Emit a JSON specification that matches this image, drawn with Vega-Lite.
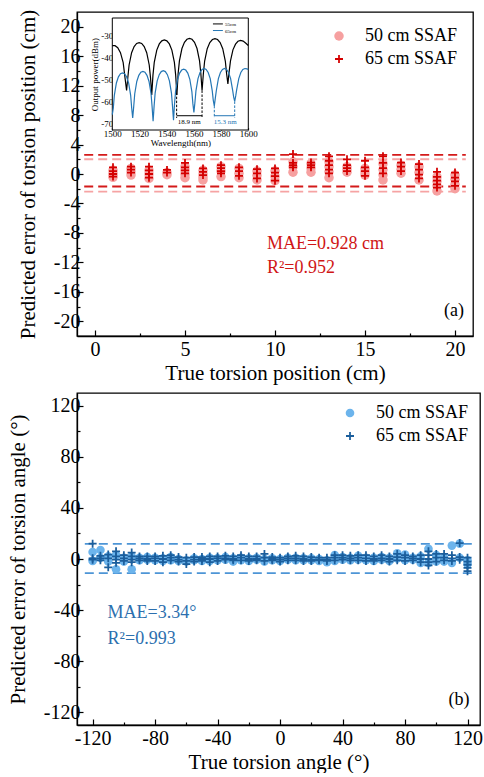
{
  "$schema": "https://vega.github.io/schema/vega-lite/v6.json",
  "padding": {"left": 6, "top": 8, "right": 0, "bottom": 0},
  "background": "white",
  "config": {
    "font": "Liberation Serif",
    "view": {"stroke": "black", "strokeWidth": 1.3},
    "axis": {
      "labelFont": "Liberation Serif", "labelFontSize": 20, "labelColor": "black",
      "titleFont": "Liberation Serif", "titleFontSize": 21, "titleFontWeight": "normal", "titleColor": "black",
      "domainColor": "black", "domainWidth": 1.3, "tickColor": "black", "tickWidth": 1.2,
      "grid": false, "labelFlush": false, "labelOverlap": false
    },
    "legend": {
      "labelFont": "Liberation Serif", "labelFontSize": 18, "labelColor": "black",
      "padding": 0, "rowPadding": 5, "labelOffset": 17, "symbolStrokeWidth": 0, "title": null
    },
    "text": {"font": "Liberation Serif"}
  },
  "spacing": 8,
  "resolve": {"scale": {"color": "independent", "shape": "independent", "size": "independent"}, "legend": {"color": "independent", "shape": "independent", "size": "independent"}},
  "vconcat": [
    {
      "width": 396,
      "height": 324,
      "resolve": {"scale": {"x": "independent", "y": "independent"}, "axis": {"x": "independent", "y": "independent"}},
      "layer": [
        {
          "layer": [
            {
              "data": {"values": [
                {"x0": -0.6, "x1": 20.6, "y": 2.6, "s": "65"},
                {"x0": -0.6, "x1": 20.6, "y": -1.7, "s": "65"},
                {"x0": -0.6, "x1": 20.6, "y": 2.0, "s": "50"},
                {"x0": -0.6, "x1": 20.6, "y": -2.4, "s": "50"}
              ]},
              "transform": [{"filter": "datum.s === '50'"}],
              "mark": {"type": "rule", "color": "#F6A3A3", "strokeWidth": 1.8, "strokeDash": [9, 5]},
              "encoding": {
                "x": {"field": "x0", "type": "quantitative", "scale": {"domain": [-1, 21], "nice": false, "zero": false}},
                "x2": {"field": "x1"},
                "y": {"field": "y", "type": "quantitative", "scale": {"domain": [-22, 22], "nice": false, "zero": false}}
              }
            },
            {
              "data": {"values": [
                {"x0": -0.6, "x1": 20.6, "y": 2.6, "s": "65"},
                {"x0": -0.6, "x1": 20.6, "y": -1.7, "s": "65"},
                {"x0": -0.6, "x1": 20.6, "y": 2.0, "s": "50"},
                {"x0": -0.6, "x1": 20.6, "y": -2.4, "s": "50"}
              ]},
              "transform": [{"filter": "datum.s === '65'"}],
              "mark": {"type": "rule", "color": "#D41A1A", "strokeWidth": 1.8, "strokeDash": [9, 5]},
              "encoding": {
                "x": {"field": "x0", "type": "quantitative"},
                "x2": {"field": "x1"},
                "y": {"field": "y", "type": "quantitative"}
              }
            },
            {
              "data": {"values": [
                {"x": 1, "y": 0.5, "series": "50 cm SSAF"}, {"x": 1, "y": 0.1, "series": "50 cm SSAF"}, {"x": 1, "y": -0.2, "series": "50 cm SSAF"}, {"x": 1, "y": -0.45, "series": "50 cm SSAF"},
                {"x": 2, "y": 0.75, "series": "50 cm SSAF"}, {"x": 2, "y": 0.3, "series": "50 cm SSAF"}, {"x": 2, "y": -0.15, "series": "50 cm SSAF"},
                {"x": 3, "y": 0.5, "series": "50 cm SSAF"}, {"x": 3, "y": 0, "series": "50 cm SSAF"}, {"x": 3, "y": -0.6, "series": "50 cm SSAF"},
                {"x": 4, "y": 0.2, "series": "50 cm SSAF"}, {"x": 4, "y": -0.1, "series": "50 cm SSAF"},
                {"x": 5, "y": 1.0, "series": "50 cm SSAF"}, {"x": 5, "y": 0.5, "series": "50 cm SSAF"}, {"x": 5, "y": 0, "series": "50 cm SSAF"}, {"x": 5, "y": -0.5, "series": "50 cm SSAF"},
                {"x": 6, "y": 0.5, "series": "50 cm SSAF"}, {"x": 6, "y": 0, "series": "50 cm SSAF"}, {"x": 6, "y": -0.4, "series": "50 cm SSAF"}, {"x": 6, "y": -0.8, "series": "50 cm SSAF"},
                {"x": 7, "y": 1.0, "series": "50 cm SSAF"}, {"x": 7, "y": 0.4, "series": "50 cm SSAF"}, {"x": 7, "y": -0.35, "series": "50 cm SSAF"},
                {"x": 8, "y": 0.75, "series": "50 cm SSAF"}, {"x": 8, "y": 0.1, "series": "50 cm SSAF"}, {"x": 8, "y": -0.5, "series": "50 cm SSAF"},
                {"x": 9, "y": 0.4, "series": "50 cm SSAF"}, {"x": 9, "y": -0.2, "series": "50 cm SSAF"}, {"x": 9, "y": -0.8, "series": "50 cm SSAF"},
                {"x": 10, "y": 0.4, "series": "50 cm SSAF"}, {"x": 10, "y": -0.3, "series": "50 cm SSAF"}, {"x": 10, "y": -0.9, "series": "50 cm SSAF"},
                {"x": 11, "y": 1.65, "series": "50 cm SSAF"}, {"x": 11, "y": 1.0, "series": "50 cm SSAF"}, {"x": 11, "y": 0.25, "series": "50 cm SSAF"},
                {"x": 12, "y": 1.4, "series": "50 cm SSAF"}, {"x": 12, "y": 0.8, "series": "50 cm SSAF"}, {"x": 12, "y": 0.25, "series": "50 cm SSAF"},
                {"x": 13, "y": 1.65, "series": "50 cm SSAF"}, {"x": 13, "y": 1.0, "series": "50 cm SSAF"}, {"x": 13, "y": 0.3, "series": "50 cm SSAF"}, {"x": 13, "y": -0.5, "series": "50 cm SSAF"},
                {"x": 14, "y": 1.0, "series": "50 cm SSAF"}, {"x": 14, "y": 0.6, "series": "50 cm SSAF"}, {"x": 14, "y": 0.25, "series": "50 cm SSAF"},
                {"x": 15, "y": 0.75, "series": "50 cm SSAF"}, {"x": 15, "y": 0.3, "series": "50 cm SSAF"}, {"x": 15, "y": -0.15, "series": "50 cm SSAF"},
                {"x": 16, "y": 1.4, "series": "50 cm SSAF"}, {"x": 16, "y": 0.6, "series": "50 cm SSAF"}, {"x": 16, "y": -0.1, "series": "50 cm SSAF"}, {"x": 16, "y": -0.8, "series": "50 cm SSAF"},
                {"x": 17, "y": 1.2, "series": "50 cm SSAF"}, {"x": 17, "y": 0.6, "series": "50 cm SSAF"}, {"x": 17, "y": 0.1, "series": "50 cm SSAF"},
                {"x": 18, "y": 1.0, "series": "50 cm SSAF"}, {"x": 18, "y": 0.2, "series": "50 cm SSAF"}, {"x": 18, "y": -0.8, "series": "50 cm SSAF"},
                {"x": 19, "y": -0.4, "series": "50 cm SSAF"}, {"x": 19, "y": -1.0, "series": "50 cm SSAF"}, {"x": 19, "y": -1.6, "series": "50 cm SSAF"}, {"x": 19, "y": -2.3, "series": "50 cm SSAF"},
                {"x": 20, "y": -0.15, "series": "50 cm SSAF"}, {"x": 20, "y": -0.7, "series": "50 cm SSAF"}, {"x": 20, "y": -1.4, "series": "50 cm SSAF"}, {"x": 20, "y": -2.0, "series": "50 cm SSAF"},
                {"x": 1, "y": 0.9, "series": "65 cm SSAF"}, {"x": 1, "y": 0.4, "series": "65 cm SSAF"}, {"x": 1, "y": 0, "series": "65 cm SSAF"}, {"x": 1, "y": -0.35, "series": "65 cm SSAF"},
                {"x": 2, "y": 1.0, "series": "65 cm SSAF"}, {"x": 2, "y": 0.6, "series": "65 cm SSAF"}, {"x": 2, "y": 0.2, "series": "65 cm SSAF"},
                {"x": 3, "y": 1.0, "series": "65 cm SSAF"}, {"x": 3, "y": 0.5, "series": "65 cm SSAF"}, {"x": 3, "y": 0, "series": "65 cm SSAF"}, {"x": 3, "y": -0.5, "series": "65 cm SSAF"},
                {"x": 4, "y": 0.55, "series": "65 cm SSAF"}, {"x": 4, "y": 0.2, "series": "65 cm SSAF"},
                {"x": 5, "y": 1.5, "series": "65 cm SSAF"}, {"x": 5, "y": 0.9, "series": "65 cm SSAF"}, {"x": 5, "y": 0.5, "series": "65 cm SSAF"}, {"x": 5, "y": 0.1, "series": "65 cm SSAF"},
                {"x": 6, "y": 0.75, "series": "65 cm SSAF"}, {"x": 6, "y": 0.3, "series": "65 cm SSAF"}, {"x": 6, "y": -0.15, "series": "65 cm SSAF"},
                {"x": 7, "y": 1.2, "series": "65 cm SSAF"}, {"x": 7, "y": 0.8, "series": "65 cm SSAF"}, {"x": 7, "y": 0.4, "series": "65 cm SSAF"}, {"x": 7, "y": 0.1, "series": "65 cm SSAF"},
                {"x": 8, "y": 0.9, "series": "65 cm SSAF"}, {"x": 8, "y": 0.4, "series": "65 cm SSAF"}, {"x": 8, "y": -0.25, "series": "65 cm SSAF"},
                {"x": 9, "y": 0.65, "series": "65 cm SSAF"}, {"x": 9, "y": 0.1, "series": "65 cm SSAF"}, {"x": 9, "y": -0.6, "series": "65 cm SSAF"},
                {"x": 10, "y": 0.75, "series": "65 cm SSAF"}, {"x": 10, "y": 0.2, "series": "65 cm SSAF"}, {"x": 10, "y": -0.3, "series": "65 cm SSAF"}, {"x": 10, "y": -0.9, "series": "65 cm SSAF"},
                {"x": 11, "y": 2.7, "series": "65 cm SSAF"}, {"x": 11, "y": 1.5, "series": "65 cm SSAF"}, {"x": 11, "y": 1.2, "series": "65 cm SSAF"}, {"x": 11, "y": 0.9, "series": "65 cm SSAF"},
                {"x": 12, "y": 1.55, "series": "65 cm SSAF"}, {"x": 12, "y": 1.2, "series": "65 cm SSAF"}, {"x": 12, "y": 0.9, "series": "65 cm SSAF"},
                {"x": 13, "y": 2.4, "series": "65 cm SSAF"}, {"x": 13, "y": 1.8, "series": "65 cm SSAF"}, {"x": 13, "y": 1.2, "series": "65 cm SSAF"}, {"x": 13, "y": 0.6, "series": "65 cm SSAF"}, {"x": 13, "y": 0.1, "series": "65 cm SSAF"},
                {"x": 14, "y": 2.0, "series": "65 cm SSAF"}, {"x": 14, "y": 1.2, "series": "65 cm SSAF"}, {"x": 14, "y": 0.8, "series": "65 cm SSAF"}, {"x": 14, "y": 0.4, "series": "65 cm SSAF"},
                {"x": 15, "y": 1.8, "series": "65 cm SSAF"}, {"x": 15, "y": 0.9, "series": "65 cm SSAF"}, {"x": 15, "y": 0.4, "series": "65 cm SSAF"}, {"x": 15, "y": -0.25, "series": "65 cm SSAF"},
                {"x": 16, "y": 2.4, "series": "65 cm SSAF"}, {"x": 16, "y": 1.5, "series": "65 cm SSAF"}, {"x": 16, "y": 0.8, "series": "65 cm SSAF"}, {"x": 16, "y": 0.1, "series": "65 cm SSAF"},
                {"x": 17, "y": 1.55, "series": "65 cm SSAF"}, {"x": 17, "y": 1.0, "series": "65 cm SSAF"}, {"x": 17, "y": 0.4, "series": "65 cm SSAF"},
                {"x": 18, "y": 1.35, "series": "65 cm SSAF"}, {"x": 18, "y": 0.6, "series": "65 cm SSAF"}, {"x": 18, "y": -0.1, "series": "65 cm SSAF"}, {"x": 18, "y": -0.6, "series": "65 cm SSAF"},
                {"x": 19, "y": 0.3, "series": "65 cm SSAF"}, {"x": 19, "y": -0.4, "series": "65 cm SSAF"}, {"x": 19, "y": -0.9, "series": "65 cm SSAF"}, {"x": 19, "y": -1.4, "series": "65 cm SSAF"}, {"x": 19, "y": -1.85, "series": "65 cm SSAF"},
                {"x": 20, "y": 0.2, "series": "65 cm SSAF"}, {"x": 20, "y": -0.5, "series": "65 cm SSAF"}, {"x": 20, "y": -1.0, "series": "65 cm SSAF"}, {"x": 20, "y": -1.6, "series": "65 cm SSAF"}
              ]},
              "mark": {"type": "point", "filled": true, "opacity": 1, "strokeWidth": 0},
              "encoding": {
                "x": {"field": "x", "type": "quantitative", "title": "True torsion position (cm)",
                  "axis": {"values": [0, 2.5, 5, 7.5, 10, 12.5, 15, 17.5, 20], "tickCount": 100,
                    "labelExpr": "datum.value % 5 === 0 ? '' + datum.value : ''",
                    "tickSize": {"condition": {"test": "datum.value % 5 === 0", "value": -6}, "value": -3},
                    "labelFont": "Liberation Serif", "labelFontSize": 20, "titleFont": "Liberation Serif", "titleFontSize": 21,
                    "labelOverlap": false, "labelFlush": false,
                    "labelPadding": 9, "titlePadding": 0}},
                "y": {"field": "y", "type": "quantitative", "title": "Predicted error of torsion position (cm)",
                  "axis": {"values": [-20, -18, -16, -14, -12, -10, -8, -6, -4, -2, 0, 2, 4, 6, 8, 10, 12, 14, 16, 18, 20], "tickCount": 100,
                    "labelExpr": "datum.value % 4 === 0 ? '' + datum.value : ''",
                    "tickSize": {"condition": {"test": "datum.value % 4 === 0", "value": -6}, "value": -3},
                    "labelFont": "Liberation Serif", "labelFontSize": 20, "titleFont": "Liberation Serif", "titleFontSize": 21,
                    "labelOverlap": false, "labelFlush": false,
                    "labelPadding": 3, "titlePadding": 15}},
                "color": {"field": "series", "type": "nominal", "scale": {"domain": ["50 cm SSAF", "65 cm SSAF"], "range": ["#F6A0A0", "#D40000"]},
                  "legend": {"orient": "top-right", "offset": 15}},
                "shape": {"field": "series", "type": "nominal", "scale": {"domain": ["50 cm SSAF", "65 cm SSAF"], "range": ["circle", "M-1,-0.22H-0.22V-1H0.22V-0.22H1V0.22H0.22V1H-0.22V0.22H-1Z"]}},
                "size": {"field": "series", "type": "nominal", "scale": {"domain": ["50 cm SSAF", "65 cm SSAF"], "range": [90, 64]}}
              }
            },
            {
              "data": {"values": [
                {"x": 9.55, "y": -10.25, "t": "MAE=0.928 cm"},
                {"x": 9.55, "y": -13.4, "t": "R²=0.952"}
              ]},
              "mark": {"type": "text", "align": "left", "baseline": "alphabetic", "fontSize": 18, "color": "#D01515", "font": "Liberation Serif"},
              "encoding": {
                "x": {"field": "x", "type": "quantitative"},
                "y": {"field": "y", "type": "quantitative"},
                "text": {"field": "t"}
              }
            },
            {
              "data": {"values": [{"x": 20.5, "y": -19.3, "t": "(a)"}]},
              "mark": {"type": "text", "align": "right", "baseline": "alphabetic", "fontSize": 18, "color": "black", "font": "Liberation Serif"},
              "encoding": {
                "x": {"field": "x", "type": "quantitative"},
                "y": {"field": "y", "type": "quantitative"},
                "text": {"field": "t"}
              }
            }
          ]
        },
        {
          "layer": [
            {
              "data": {"values": [{"l0": 1500, "l1": 1600, "p0": -73, "p1": -22}]},
              "mark": {"type": "rect", "fill": "white", "stroke": "black", "strokeWidth": 1},
              "encoding": {
                "x": {"field": "l0", "type": "quantitative",
                  "scale": {"domain": [1500, 1600], "range": [35.3, 171.3], "nice": false, "zero": false},
                  "axis": {"orient": "bottom", "offset": -206, "values": [1500, 1520, 1540, 1560, 1580, 1600], "tickCount": 100,
                    "title": "Wavelength(nm)", "labelFont": "Liberation Serif", "titleFont": "Liberation Serif",
                    "labelFontSize": 9, "titleFontSize": 9, "tickSize": -2.5, "labelOverlap": false, "labelFlush": false,
                    "labelPadding": 2, "titlePadding": 0, "domain": false, "labelExpr": "'' + datum.value"}},
                "x2": {"field": "l1"},
                "y": {"field": "p0", "type": "quantitative",
                  "scale": {"domain": [-73, -22], "range": [118, 6], "nice": false, "zero": false},
                  "axis": {"orient": "left", "offset": -35.3, "values": [-70, -60, -50, -40, -30], "tickCount": 100,
                    "title": "Output power(dBm)", "labelFont": "Liberation Serif", "titleFont": "Liberation Serif",
                    "labelFontSize": 9, "titleFontSize": 9, "tickSize": -2.5, "labelOverlap": false, "labelFlush": false,
                    "labelPadding": 2, "titlePadding": 1, "domain": false, "labelExpr": "'' + datum.value"}},
                "y2": {"field": "p1"}
              }
            },
            {
              "data": {"name": "spec", "values": [
                {"lam": 1500, "p": -34.6, "s": "55cm"}, {"lam": 1502, "p": -34.6, "s": "55cm"}, {"lam": 1504, "p": -35.5, "s": "55cm"}, {"lam": 1506, "p": -37.8, "s": "55cm"}, {"lam": 1508, "p": -42.3, "s": "55cm"}, {"lam": 1509.5, "p": -50, "s": "55cm"}, {"lam": 1510.5, "p": -55, "s": "55cm"},
                {"lam": 1511.4, "p": -49.2, "s": "55cm"}, {"lam": 1512.35, "p": -43.4, "s": "55cm"}, {"lam": 1514.2, "p": -37.8, "s": "55cm"}, {"lam": 1516.05, "p": -35, "s": "55cm"}, {"lam": 1517.9, "p": -33.6, "s": "55cm"}, {"lam": 1519.75, "p": -33.2, "s": "55cm"}, {"lam": 1521.6, "p": -33.6, "s": "55cm"}, {"lam": 1523.45, "p": -35, "s": "55cm"}, {"lam": 1525.3, "p": -37.8, "s": "55cm"}, {"lam": 1527.15, "p": -43.4, "s": "55cm"}, {"lam": 1528.1, "p": -49.2, "s": "55cm"}, {"lam": 1529, "p": -57, "s": "55cm"},
                {"lam": 1529.9, "p": -48, "s": "55cm"}, {"lam": 1530.85, "p": -42.2, "s": "55cm"}, {"lam": 1532.7, "p": -36.6, "s": "55cm"}, {"lam": 1534.55, "p": -33.8, "s": "55cm"}, {"lam": 1536.4, "p": -32.4, "s": "55cm"}, {"lam": 1538.25, "p": -32, "s": "55cm"}, {"lam": 1540.1, "p": -32.4, "s": "55cm"}, {"lam": 1541.95, "p": -33.8, "s": "55cm"}, {"lam": 1543.8, "p": -36.6, "s": "55cm"}, {"lam": 1545.65, "p": -42.2, "s": "55cm"}, {"lam": 1546.6, "p": -48, "s": "55cm"}, {"lam": 1547.5, "p": -57, "s": "55cm"},
                {"lam": 1548.4, "p": -47.3, "s": "55cm"}, {"lam": 1549.35, "p": -41.5, "s": "55cm"}, {"lam": 1551.2, "p": -35.9, "s": "55cm"}, {"lam": 1553.05, "p": -33.1, "s": "55cm"}, {"lam": 1554.9, "p": -31.7, "s": "55cm"}, {"lam": 1556.75, "p": -31.3, "s": "55cm"}, {"lam": 1558.6, "p": -31.7, "s": "55cm"}, {"lam": 1560.45, "p": -33.1, "s": "55cm"}, {"lam": 1562.3, "p": -35.9, "s": "55cm"}, {"lam": 1564.15, "p": -41.5, "s": "55cm"}, {"lam": 1565.1, "p": -47.3, "s": "55cm"}, {"lam": 1566, "p": -55, "s": "55cm"},
                {"lam": 1566.95, "p": -47.4, "s": "55cm"}, {"lam": 1567.9, "p": -41.6, "s": "55cm"}, {"lam": 1569.8, "p": -36, "s": "55cm"}, {"lam": 1571.7, "p": -33.2, "s": "55cm"}, {"lam": 1573.6, "p": -31.8, "s": "55cm"}, {"lam": 1575.5, "p": -31.4, "s": "55cm"}, {"lam": 1577.4, "p": -31.8, "s": "55cm"}, {"lam": 1579.3, "p": -33.2, "s": "55cm"}, {"lam": 1581.2, "p": -36, "s": "55cm"}, {"lam": 1583.1, "p": -41.6, "s": "55cm"}, {"lam": 1584.05, "p": -47.4, "s": "55cm"}, {"lam": 1585, "p": -52, "s": "55cm"},
                {"lam": 1585.9, "p": -46.5, "s": "55cm"}, {"lam": 1586.9, "p": -41.5, "s": "55cm"}, {"lam": 1588.7, "p": -36.5, "s": "55cm"}, {"lam": 1590.6, "p": -33.9, "s": "55cm"}, {"lam": 1592.4, "p": -32.6, "s": "55cm"}, {"lam": 1594.3, "p": -32.2, "s": "55cm"}, {"lam": 1596.2, "p": -32.5, "s": "55cm"}, {"lam": 1598, "p": -33.4, "s": "55cm"}, {"lam": 1600, "p": -34.5, "s": "55cm"},
                {"lam": 1500, "p": -66, "s": "65cm"}, {"lam": 1500.75, "p": -63, "s": "65cm"}, {"lam": 1501.5, "p": -57.2, "s": "65cm"}, {"lam": 1503, "p": -51.6, "s": "65cm"}, {"lam": 1504.5, "p": -48.8, "s": "65cm"}, {"lam": 1506, "p": -47.4, "s": "65cm"}, {"lam": 1507.5, "p": -47, "s": "65cm"}, {"lam": 1509, "p": -47.4, "s": "65cm"}, {"lam": 1510.5, "p": -48.8, "s": "65cm"}, {"lam": 1512, "p": -51.6, "s": "65cm"}, {"lam": 1513.5, "p": -57.2, "s": "65cm"}, {"lam": 1514.25, "p": -63, "s": "65cm"}, {"lam": 1515, "p": -67.5, "s": "65cm"},
                {"lam": 1515.75, "p": -62.3, "s": "65cm"}, {"lam": 1516.5, "p": -56.5, "s": "65cm"}, {"lam": 1518, "p": -50.9, "s": "65cm"}, {"lam": 1519.5, "p": -48.1, "s": "65cm"}, {"lam": 1521, "p": -46.7, "s": "65cm"}, {"lam": 1522.5, "p": -46.3, "s": "65cm"}, {"lam": 1524, "p": -46.7, "s": "65cm"}, {"lam": 1525.5, "p": -48.1, "s": "65cm"}, {"lam": 1527, "p": -50.9, "s": "65cm"}, {"lam": 1528.5, "p": -56.5, "s": "65cm"}, {"lam": 1529.25, "p": -62.3, "s": "65cm"}, {"lam": 1530, "p": -69, "s": "65cm"},
                {"lam": 1530.75, "p": -62, "s": "65cm"}, {"lam": 1531.5, "p": -56.2, "s": "65cm"}, {"lam": 1533, "p": -50.6, "s": "65cm"}, {"lam": 1534.5, "p": -47.8, "s": "65cm"}, {"lam": 1536, "p": -46.4, "s": "65cm"}, {"lam": 1537.5, "p": -46, "s": "65cm"}, {"lam": 1539, "p": -46.4, "s": "65cm"}, {"lam": 1540.5, "p": -47.8, "s": "65cm"}, {"lam": 1542, "p": -50.6, "s": "65cm"}, {"lam": 1543.5, "p": -56.2, "s": "65cm"}, {"lam": 1544.25, "p": -62, "s": "65cm"}, {"lam": 1545, "p": -68.5, "s": "65cm"},
                {"lam": 1545.75, "p": -61.3, "s": "65cm"}, {"lam": 1546.5, "p": -55.5, "s": "65cm"}, {"lam": 1548, "p": -49.9, "s": "65cm"}, {"lam": 1549.5, "p": -47.1, "s": "65cm"}, {"lam": 1551, "p": -45.7, "s": "65cm"}, {"lam": 1552.5, "p": -45.3, "s": "65cm"}, {"lam": 1554, "p": -45.7, "s": "65cm"}, {"lam": 1555.5, "p": -47.1, "s": "65cm"}, {"lam": 1557, "p": -49.9, "s": "65cm"}, {"lam": 1558.5, "p": -55.5, "s": "65cm"}, {"lam": 1559.25, "p": -61, "s": "65cm"}, {"lam": 1560, "p": -65, "s": "65cm"},
                {"lam": 1560.75, "p": -60.5, "s": "65cm"}, {"lam": 1561.5, "p": -55.2, "s": "65cm"}, {"lam": 1563, "p": -49.6, "s": "65cm"}, {"lam": 1564.5, "p": -46.8, "s": "65cm"}, {"lam": 1566, "p": -45.4, "s": "65cm"}, {"lam": 1567.5, "p": -45, "s": "65cm"}, {"lam": 1569, "p": -45.4, "s": "65cm"}, {"lam": 1570.5, "p": -46.8, "s": "65cm"}, {"lam": 1572, "p": -49.6, "s": "65cm"}, {"lam": 1573.5, "p": -55.2, "s": "65cm"}, {"lam": 1574.25, "p": -59.5, "s": "65cm"}, {"lam": 1575, "p": -62, "s": "65cm"},
                {"lam": 1575.75, "p": -58.5, "s": "65cm"}, {"lam": 1576.5, "p": -55, "s": "65cm"}, {"lam": 1578, "p": -49.6, "s": "65cm"}, {"lam": 1579.5, "p": -46.8, "s": "65cm"}, {"lam": 1581, "p": -45.4, "s": "65cm"}, {"lam": 1582.5, "p": -45, "s": "65cm"}, {"lam": 1584, "p": -45.4, "s": "65cm"}, {"lam": 1585.5, "p": -46.8, "s": "65cm"}, {"lam": 1587, "p": -49.6, "s": "65cm"}, {"lam": 1588.5, "p": -55, "s": "65cm"}, {"lam": 1589.25, "p": -58, "s": "65cm"}, {"lam": 1590, "p": -60, "s": "65cm"},
                {"lam": 1590.75, "p": -57.5, "s": "65cm"}, {"lam": 1591.5, "p": -54.5, "s": "65cm"}, {"lam": 1593, "p": -49.6, "s": "65cm"}, {"lam": 1594.5, "p": -46.8, "s": "65cm"}, {"lam": 1596, "p": -45.4, "s": "65cm"}, {"lam": 1597.5, "p": -45, "s": "65cm"}, {"lam": 1599, "p": -45.2, "s": "65cm"}, {"lam": 1600, "p": -45.4, "s": "65cm"}
              ]},
              "transform": [{"filter": "datum.s === '55cm'"}],
              "mark": {"type": "line", "color": "black", "strokeWidth": 1.2},
              "encoding": {
                "x": {"field": "lam", "type": "quantitative"},
                "y": {"field": "p", "type": "quantitative"}
              }
            },
            {
              "data": {"name": "spec"},
              "transform": [{"filter": "datum.s === '65cm'"}],
              "mark": {"type": "line", "color": "#2577B5", "strokeWidth": 1.2},
              "encoding": {
                "x": {"field": "lam", "type": "quantitative"},
                "y": {"field": "p", "type": "quantitative"}
              }
            },
            {
              "data": {"values": [
                {"l0": 1547.3, "l1": 1547.3, "p0": -56, "p1": -67.5},
                {"l0": 1566, "l1": 1566, "p0": -55, "p1": -67.5}
              ]},
              "mark": {"type": "rule", "color": "black", "strokeWidth": 1, "strokeDash": [2.5, 1.5]},
              "encoding": {
                "x": {"field": "l0", "type": "quantitative"}, "x2": {"field": "l1"},
                "y": {"field": "p0", "type": "quantitative"}, "y2": {"field": "p1"}
              }
            },
            {
              "data": {"values": [
                {"l0": 1575, "l1": 1575, "p0": -62, "p1": -67.5},
                {"l0": 1590, "l1": 1590, "p0": -60, "p1": -67.5}
              ]},
              "mark": {"type": "rule", "color": "#2577B5", "strokeWidth": 1, "strokeDash": [2.5, 1.5]},
              "encoding": {
                "x": {"field": "l0", "type": "quantitative"}, "x2": {"field": "l1"},
                "y": {"field": "p0", "type": "quantitative"}, "y2": {"field": "p1"}
              }
            },
            {
              "data": {"values": [{"l0": 1547.3, "l1": 1566, "p": -66.5}]},
              "mark": {"type": "rule", "color": "black", "strokeWidth": 1},
              "encoding": {
                "x": {"field": "l0", "type": "quantitative"}, "x2": {"field": "l1"},
                "y": {"field": "p", "type": "quantitative"}
              }
            },
            {
              "data": {"values": [{"l0": 1575, "l1": 1590, "p": -66.5}]},
              "mark": {"type": "rule", "color": "#2577B5", "strokeWidth": 1},
              "encoding": {
                "x": {"field": "l0", "type": "quantitative"}, "x2": {"field": "l1"},
                "y": {"field": "p", "type": "quantitative"}
              }
            },
            {
              "data": {"values": [{"l": 1556.6, "p": -70.4, "t": "18.9 nm"}]},
              "mark": {"type": "text", "fontSize": 7, "color": "black", "baseline": "alphabetic", "font": "Liberation Serif"},
              "encoding": {
                "x": {"field": "l", "type": "quantitative"},
                "y": {"field": "p", "type": "quantitative"},
                "text": {"field": "t"}
              }
            },
            {
              "data": {"values": [{"l": 1583, "p": -70.4, "t": "15.3 nm"}]},
              "mark": {"type": "text", "fontSize": 7, "color": "#2577B5", "baseline": "alphabetic", "font": "Liberation Serif"},
              "encoding": {
                "x": {"field": "l", "type": "quantitative"},
                "y": {"field": "p", "type": "quantitative"},
                "text": {"field": "t"}
              }
            },
            {
              "data": {"values": [{"l0": 1574, "l1": 1581.3, "p": -24.7}]},
              "mark": {"type": "rule", "color": "black", "strokeWidth": 1},
              "encoding": {
                "x": {"field": "l0", "type": "quantitative"}, "x2": {"field": "l1"},
                "y": {"field": "p", "type": "quantitative"}
              }
            },
            {
              "data": {"values": [{"l0": 1574, "l1": 1581.3, "p": -27.7}]},
              "mark": {"type": "rule", "color": "#2577B5", "strokeWidth": 1},
              "encoding": {
                "x": {"field": "l0", "type": "quantitative"}, "x2": {"field": "l1"},
                "y": {"field": "p", "type": "quantitative"}
              }
            },
            {
              "data": {"values": [{"l": 1582.8, "p": -24.7, "t": "55cm"}, {"l": 1582.8, "p": -27.7, "t": "65cm"}]},
              "mark": {"type": "text", "fontSize": 5, "color": "black", "align": "left", "baseline": "middle", "font": "Liberation Serif"},
              "encoding": {
                "x": {"field": "l", "type": "quantitative"},
                "y": {"field": "p", "type": "quantitative"},
                "text": {"field": "t"}
              }
            }
          ]
        }
      ]
    },
    {
      "width": 403,
      "height": 332,
      "layer": [
        {
          "data": {"values": [
            {"x0": -125, "x1": 125, "y": 11.8},
            {"x0": -125, "x1": 125, "y": -11.1}
          ]},
          "mark": {"type": "rule", "color": "#4D95D6", "strokeWidth": 1.8, "strokeDash": [9, 5]},
          "encoding": {
            "x": {"field": "x0", "type": "quantitative", "scale": {"domain": [-130, 128], "nice": false, "zero": false}},
            "x2": {"field": "x1"},
            "y": {"field": "y", "type": "quantitative", "scale": {"domain": [-130, 130], "nice": false, "zero": false}}
          }
        },
        {
          "data": {"values": [
            {"x": -120, "y": 5.5, "series": "50 cm SSAF"}, {"x": -120, "y": -1.5, "series": "50 cm SSAF"},
            {"x": -115, "y": 7, "series": "50 cm SSAF"}, {"x": -115, "y": 1, "series": "50 cm SSAF"},
            {"x": -110, "y": 2, "series": "50 cm SSAF"}, {"x": -110, "y": -2, "series": "50 cm SSAF"},
            {"x": -105, "y": -8, "series": "50 cm SSAF"}, {"x": -105, "y": 3, "series": "50 cm SSAF"},
            {"x": -100, "y": 1, "series": "50 cm SSAF"}, {"x": -100, "y": -2, "series": "50 cm SSAF"},
            {"x": -95, "y": -8, "series": "50 cm SSAF"}, {"x": -95, "y": 2, "series": "50 cm SSAF"},
            {"x": -90, "y": 1, "series": "50 cm SSAF"}, {"x": -90, "y": -1, "series": "50 cm SSAF"},
            {"x": -85, "y": 1.5, "series": "50 cm SSAF"}, {"x": -85, "y": -0.5, "series": "50 cm SSAF"},
            {"x": -80, "y": 1, "series": "50 cm SSAF"}, {"x": -80, "y": -1, "series": "50 cm SSAF"},
            {"x": -75, "y": 0.5, "series": "50 cm SSAF"}, {"x": -75, "y": -1.5, "series": "50 cm SSAF"},
            {"x": -70, "y": 1.5, "series": "50 cm SSAF"}, {"x": -70, "y": -1, "series": "50 cm SSAF"},
            {"x": -65, "y": 0, "series": "50 cm SSAF"}, {"x": -65, "y": -1.5, "series": "50 cm SSAF"},
            {"x": -60, "y": -1, "series": "50 cm SSAF"}, {"x": -60, "y": -2, "series": "50 cm SSAF"},
            {"x": -55, "y": 0.5, "series": "50 cm SSAF"}, {"x": -55, "y": -1, "series": "50 cm SSAF"},
            {"x": -50, "y": 0, "series": "50 cm SSAF"}, {"x": -50, "y": -1.5, "series": "50 cm SSAF"},
            {"x": -45, "y": 1, "series": "50 cm SSAF"}, {"x": -45, "y": -1.5, "series": "50 cm SSAF"},
            {"x": -40, "y": 0.5, "series": "50 cm SSAF"}, {"x": -40, "y": -1, "series": "50 cm SSAF"},
            {"x": -35, "y": 1.5, "series": "50 cm SSAF"}, {"x": -35, "y": -0.5, "series": "50 cm SSAF"},
            {"x": -30, "y": 0.5, "series": "50 cm SSAF"}, {"x": -30, "y": -2, "series": "50 cm SSAF"},
            {"x": -25, "y": 1, "series": "50 cm SSAF"}, {"x": -25, "y": -1, "series": "50 cm SSAF"},
            {"x": -20, "y": 0.5, "series": "50 cm SSAF"}, {"x": -20, "y": -1.5, "series": "50 cm SSAF"},
            {"x": -15, "y": 1, "series": "50 cm SSAF"}, {"x": -15, "y": -0.5, "series": "50 cm SSAF"},
            {"x": -10, "y": 0, "series": "50 cm SSAF"}, {"x": -10, "y": -2, "series": "50 cm SSAF"},
            {"x": -5, "y": 0.5, "series": "50 cm SSAF"}, {"x": -5, "y": -1, "series": "50 cm SSAF"},
            {"x": 0, "y": 0, "series": "50 cm SSAF"}, {"x": 0, "y": -1.5, "series": "50 cm SSAF"},
            {"x": 5, "y": 1, "series": "50 cm SSAF"}, {"x": 5, "y": -0.5, "series": "50 cm SSAF"},
            {"x": 10, "y": 1, "series": "50 cm SSAF"}, {"x": 10, "y": -1, "series": "50 cm SSAF"},
            {"x": 15, "y": 0.5, "series": "50 cm SSAF"}, {"x": 15, "y": -1, "series": "50 cm SSAF"},
            {"x": 20, "y": 0.5, "series": "50 cm SSAF"}, {"x": 20, "y": -1, "series": "50 cm SSAF"},
            {"x": 25, "y": 0, "series": "50 cm SSAF"}, {"x": 25, "y": -1.5, "series": "50 cm SSAF"},
            {"x": 30, "y": -1, "series": "50 cm SSAF"}, {"x": 30, "y": -2.5, "series": "50 cm SSAF"},
            {"x": 35, "y": 3, "series": "50 cm SSAF"}, {"x": 35, "y": -1.5, "series": "50 cm SSAF"},
            {"x": 40, "y": 1.5, "series": "50 cm SSAF"}, {"x": 40, "y": -0.5, "series": "50 cm SSAF"},
            {"x": 45, "y": 1, "series": "50 cm SSAF"}, {"x": 45, "y": -1, "series": "50 cm SSAF"},
            {"x": 50, "y": 2.5, "series": "50 cm SSAF"}, {"x": 50, "y": -0.5, "series": "50 cm SSAF"},
            {"x": 55, "y": 1, "series": "50 cm SSAF"}, {"x": 55, "y": -1, "series": "50 cm SSAF"},
            {"x": 60, "y": 1, "series": "50 cm SSAF"}, {"x": 60, "y": -1.5, "series": "50 cm SSAF"},
            {"x": 65, "y": 1.5, "series": "50 cm SSAF"}, {"x": 65, "y": -0.5, "series": "50 cm SSAF"},
            {"x": 70, "y": 1, "series": "50 cm SSAF"}, {"x": 70, "y": -1.5, "series": "50 cm SSAF"},
            {"x": 75, "y": 4.5, "series": "50 cm SSAF"}, {"x": 75, "y": 0.5, "series": "50 cm SSAF"},
            {"x": 80, "y": 3.5, "series": "50 cm SSAF"}, {"x": 80, "y": -1, "series": "50 cm SSAF"},
            {"x": 85, "y": 1, "series": "50 cm SSAF"}, {"x": 85, "y": -0.5, "series": "50 cm SSAF"},
            {"x": 90, "y": 2, "series": "50 cm SSAF"}, {"x": 90, "y": -3, "series": "50 cm SSAF"},
            {"x": 95, "y": 8, "series": "50 cm SSAF"}, {"x": 95, "y": -3, "series": "50 cm SSAF"},
            {"x": 100, "y": 3, "series": "50 cm SSAF"}, {"x": 100, "y": -2, "series": "50 cm SSAF"},
            {"x": 105, "y": 1, "series": "50 cm SSAF"}, {"x": 105, "y": -2, "series": "50 cm SSAF"},
            {"x": 110, "y": 10.5, "series": "50 cm SSAF"}, {"x": 110, "y": -3, "series": "50 cm SSAF"},
            {"x": 115, "y": 12, "series": "50 cm SSAF"}, {"x": 115, "y": 1, "series": "50 cm SSAF"},
            {"x": 120, "y": -1, "series": "50 cm SSAF"}, {"x": 120, "y": -4, "series": "50 cm SSAF"},
            {"x": -120, "y": 12, "series": "65 cm SSAF"}, {"x": -120, "y": 0.5, "series": "65 cm SSAF"}, {"x": -120, "y": -0.5, "series": "65 cm SSAF"},
            {"x": -115, "y": 2.5, "series": "65 cm SSAF"}, {"x": -115, "y": 0.5, "series": "65 cm SSAF"}, {"x": -115, "y": -1, "series": "65 cm SSAF"},
            {"x": -110, "y": 3.5, "series": "65 cm SSAF"}, {"x": -110, "y": 0.5, "series": "65 cm SSAF"}, {"x": -110, "y": -6.5, "series": "65 cm SSAF"},
            {"x": -105, "y": 6, "series": "65 cm SSAF"}, {"x": -105, "y": 2, "series": "65 cm SSAF"}, {"x": -105, "y": -0.5, "series": "65 cm SSAF"}, {"x": -105, "y": -3, "series": "65 cm SSAF"},
            {"x": -100, "y": 3, "series": "65 cm SSAF"}, {"x": -100, "y": 0.5, "series": "65 cm SSAF"}, {"x": -100, "y": -1.5, "series": "65 cm SSAF"},
            {"x": -95, "y": 5, "series": "65 cm SSAF"}, {"x": -95, "y": 2, "series": "65 cm SSAF"}, {"x": -95, "y": -0.5, "series": "65 cm SSAF"}, {"x": -95, "y": -2.5, "series": "65 cm SSAF"},
            {"x": -90, "y": 2, "series": "65 cm SSAF"}, {"x": -90, "y": 0.5, "series": "65 cm SSAF"}, {"x": -90, "y": -1, "series": "65 cm SSAF"},
            {"x": -85, "y": 2, "series": "65 cm SSAF"}, {"x": -85, "y": 0, "series": "65 cm SSAF"}, {"x": -85, "y": -1.5, "series": "65 cm SSAF"},
            {"x": -80, "y": 2, "series": "65 cm SSAF"}, {"x": -80, "y": 0.5, "series": "65 cm SSAF"}, {"x": -80, "y": -1.5, "series": "65 cm SSAF"},
            {"x": -75, "y": 2.5, "series": "65 cm SSAF"}, {"x": -75, "y": 0, "series": "65 cm SSAF"}, {"x": -75, "y": -2.5, "series": "65 cm SSAF"},
            {"x": -70, "y": 3, "series": "65 cm SSAF"}, {"x": -70, "y": 1, "series": "65 cm SSAF"}, {"x": -70, "y": -1, "series": "65 cm SSAF"},
            {"x": -65, "y": 1.5, "series": "65 cm SSAF"}, {"x": -65, "y": -0.5, "series": "65 cm SSAF"}, {"x": -65, "y": -2, "series": "65 cm SSAF"},
            {"x": -60, "y": 1, "series": "65 cm SSAF"}, {"x": -60, "y": -1.5, "series": "65 cm SSAF"}, {"x": -60, "y": -4, "series": "65 cm SSAF"},
            {"x": -55, "y": 1.5, "series": "65 cm SSAF"}, {"x": -55, "y": -0.5, "series": "65 cm SSAF"}, {"x": -55, "y": -2, "series": "65 cm SSAF"},
            {"x": -50, "y": 1.5, "series": "65 cm SSAF"}, {"x": -50, "y": 0, "series": "65 cm SSAF"}, {"x": -50, "y": -1.5, "series": "65 cm SSAF"},
            {"x": -45, "y": 2, "series": "65 cm SSAF"}, {"x": -45, "y": 0, "series": "65 cm SSAF"}, {"x": -45, "y": -2.5, "series": "65 cm SSAF"},
            {"x": -40, "y": 2, "series": "65 cm SSAF"}, {"x": -40, "y": 0.5, "series": "65 cm SSAF"}, {"x": -40, "y": -1.5, "series": "65 cm SSAF"},
            {"x": -35, "y": 2.5, "series": "65 cm SSAF"}, {"x": -35, "y": 0.5, "series": "65 cm SSAF"}, {"x": -35, "y": -0.5, "series": "65 cm SSAF"},
            {"x": -30, "y": 2, "series": "65 cm SSAF"}, {"x": -30, "y": 0, "series": "65 cm SSAF"}, {"x": -30, "y": -1, "series": "65 cm SSAF"},
            {"x": -25, "y": 3, "series": "65 cm SSAF"}, {"x": -25, "y": 1, "series": "65 cm SSAF"}, {"x": -25, "y": -1, "series": "65 cm SSAF"},
            {"x": -20, "y": 2, "series": "65 cm SSAF"}, {"x": -20, "y": 0, "series": "65 cm SSAF"}, {"x": -20, "y": -1.5, "series": "65 cm SSAF"},
            {"x": -15, "y": 2, "series": "65 cm SSAF"}, {"x": -15, "y": 0, "series": "65 cm SSAF"}, {"x": -15, "y": -1, "series": "65 cm SSAF"},
            {"x": -10, "y": 4, "series": "65 cm SSAF"}, {"x": -10, "y": 1, "series": "65 cm SSAF"}, {"x": -10, "y": -1.5, "series": "65 cm SSAF"},
            {"x": -5, "y": 1.5, "series": "65 cm SSAF"}, {"x": -5, "y": 0, "series": "65 cm SSAF"}, {"x": -5, "y": -1, "series": "65 cm SSAF"},
            {"x": 0, "y": 1, "series": "65 cm SSAF"}, {"x": 0, "y": -0.5, "series": "65 cm SSAF"}, {"x": 0, "y": -2, "series": "65 cm SSAF"},
            {"x": 5, "y": 2, "series": "65 cm SSAF"}, {"x": 5, "y": 0.5, "series": "65 cm SSAF"}, {"x": 5, "y": -1, "series": "65 cm SSAF"},
            {"x": 10, "y": 2.5, "series": "65 cm SSAF"}, {"x": 10, "y": 0.5, "series": "65 cm SSAF"}, {"x": 10, "y": -1, "series": "65 cm SSAF"},
            {"x": 15, "y": 2, "series": "65 cm SSAF"}, {"x": 15, "y": 0, "series": "65 cm SSAF"}, {"x": 15, "y": -1.5, "series": "65 cm SSAF"},
            {"x": 20, "y": 1.5, "series": "65 cm SSAF"}, {"x": 20, "y": -0.5, "series": "65 cm SSAF"}, {"x": 20, "y": -1.5, "series": "65 cm SSAF"},
            {"x": 25, "y": 1, "series": "65 cm SSAF"}, {"x": 25, "y": -0.5, "series": "65 cm SSAF"}, {"x": 25, "y": -1, "series": "65 cm SSAF"},
            {"x": 30, "y": 1, "series": "65 cm SSAF"}, {"x": 30, "y": -0.5, "series": "65 cm SSAF"}, {"x": 30, "y": -1.5, "series": "65 cm SSAF"},
            {"x": 35, "y": 3, "series": "65 cm SSAF"}, {"x": 35, "y": 1, "series": "65 cm SSAF"}, {"x": 35, "y": -1, "series": "65 cm SSAF"},
            {"x": 40, "y": 3, "series": "65 cm SSAF"}, {"x": 40, "y": 1, "series": "65 cm SSAF"}, {"x": 40, "y": -0.5, "series": "65 cm SSAF"},
            {"x": 45, "y": 2.5, "series": "65 cm SSAF"}, {"x": 45, "y": 0.5, "series": "65 cm SSAF"}, {"x": 45, "y": -1, "series": "65 cm SSAF"},
            {"x": 50, "y": 3, "series": "65 cm SSAF"}, {"x": 50, "y": 1, "series": "65 cm SSAF"}, {"x": 50, "y": -1, "series": "65 cm SSAF"},
            {"x": 55, "y": 3, "series": "65 cm SSAF"}, {"x": 55, "y": 0.5, "series": "65 cm SSAF"}, {"x": 55, "y": -1.5, "series": "65 cm SSAF"},
            {"x": 60, "y": 2, "series": "65 cm SSAF"}, {"x": 60, "y": 0, "series": "65 cm SSAF"}, {"x": 60, "y": -1.5, "series": "65 cm SSAF"},
            {"x": 65, "y": 3, "series": "65 cm SSAF"}, {"x": 65, "y": 0.5, "series": "65 cm SSAF"}, {"x": 65, "y": -1, "series": "65 cm SSAF"},
            {"x": 70, "y": 2, "series": "65 cm SSAF"}, {"x": 70, "y": 0, "series": "65 cm SSAF"}, {"x": 70, "y": -2, "series": "65 cm SSAF"},
            {"x": 75, "y": 4, "series": "65 cm SSAF"}, {"x": 75, "y": 1.5, "series": "65 cm SSAF"}, {"x": 75, "y": -1, "series": "65 cm SSAF"},
            {"x": 80, "y": 3, "series": "65 cm SSAF"}, {"x": 80, "y": 1, "series": "65 cm SSAF"}, {"x": 80, "y": -1.5, "series": "65 cm SSAF"},
            {"x": 85, "y": 2, "series": "65 cm SSAF"}, {"x": 85, "y": 0.5, "series": "65 cm SSAF"}, {"x": 85, "y": -1, "series": "65 cm SSAF"},
            {"x": 90, "y": 3, "series": "65 cm SSAF"}, {"x": 90, "y": 0, "series": "65 cm SSAF"}, {"x": 90, "y": -2.5, "series": "65 cm SSAF"},
            {"x": 95, "y": 6, "series": "65 cm SSAF"}, {"x": 95, "y": 3, "series": "65 cm SSAF"}, {"x": 95, "y": 0, "series": "65 cm SSAF"}, {"x": 95, "y": -2.5, "series": "65 cm SSAF"}, {"x": 95, "y": -5, "series": "65 cm SSAF"},
            {"x": 100, "y": 4, "series": "65 cm SSAF"}, {"x": 100, "y": 1, "series": "65 cm SSAF"}, {"x": 100, "y": -2, "series": "65 cm SSAF"},
            {"x": 105, "y": 4, "series": "65 cm SSAF"}, {"x": 105, "y": 1, "series": "65 cm SSAF"}, {"x": 105, "y": -1, "series": "65 cm SSAF"},
            {"x": 110, "y": 3, "series": "65 cm SSAF"}, {"x": 110, "y": 0.5, "series": "65 cm SSAF"}, {"x": 110, "y": -1.5, "series": "65 cm SSAF"},
            {"x": 115, "y": 12.5, "series": "65 cm SSAF"}, {"x": 115, "y": 1.5, "series": "65 cm SSAF"}, {"x": 115, "y": -0.5, "series": "65 cm SSAF"},
            {"x": 120, "y": 1, "series": "65 cm SSAF"}, {"x": 120, "y": -2, "series": "65 cm SSAF"}, {"x": 120, "y": -4.5, "series": "65 cm SSAF"}, {"x": 120, "y": -7, "series": "65 cm SSAF"}, {"x": 120, "y": -9.5, "series": "65 cm SSAF"}
          ]},
          "mark": {"type": "point", "filled": true, "opacity": 1, "strokeWidth": 0},
          "encoding": {
            "x": {"field": "x", "type": "quantitative", "title": "True torsion angle (°)",
              "axis": {"values": [-120, -100, -80, -60, -40, -20, 0, 20, 40, 60, 80, 100, 120], "tickCount": 100,
                "labelExpr": "datum.value % 40 === 0 ? '' + datum.value : ''",
                "tickSize": {"condition": {"test": "datum.value % 40 === 0", "value": -6}, "value": -3},
                "labelFont": "Liberation Serif", "labelFontSize": 20, "titleFont": "Liberation Serif", "titleFontSize": 21,
                "labelOverlap": false, "labelFlush": false,
                "labelPadding": 9, "titlePadding": 0}},
            "y": {"field": "y", "type": "quantitative", "title": "Predicted error of torsion angle (°)",
              "axis": {"values": [-120, -100, -80, -60, -40, -20, 0, 20, 40, 60, 80, 100, 120], "tickCount": 100,
                "labelExpr": "datum.value % 40 === 0 ? '' + datum.value : ''",
                "tickSize": {"condition": {"test": "datum.value % 40 === 0", "value": -6}, "value": -3},
                "labelFont": "Liberation Serif", "labelFontSize": 20, "titleFont": "Liberation Serif", "titleFontSize": 21,
                "labelOverlap": false, "labelFlush": false,
                "labelPadding": 3, "titlePadding": 15}},
            "color": {"field": "series", "type": "nominal", "scale": {"domain": ["50 cm SSAF", "65 cm SSAF"], "range": ["#6CB4EC", "#1B5E9C"]},
              "legend": {"orient": "top-right", "offset": 11}},
            "shape": {"field": "series", "type": "nominal", "scale": {"domain": ["50 cm SSAF", "65 cm SSAF"], "range": ["circle", "M-1,-0.22H-0.22V-1H0.22V-0.22H1V0.22H0.22V1H-0.22V0.22H-1Z"]}},
            "size": {"field": "series", "type": "nominal", "scale": {"domain": ["50 cm SSAF", "65 cm SSAF"], "range": [75, 64]}}
          }
        },
        {
          "data": {"values": [
            {"x": -110.4, "y": -46.4, "t": "MAE=3.34°"},
            {"x": -110.4, "y": -66.7, "t": "R²=0.993"}
          ]},
          "mark": {"type": "text", "align": "left", "baseline": "alphabetic", "fontSize": 18, "color": "#2C6FAE", "font": "Liberation Serif"},
          "encoding": {
            "x": {"field": "x", "type": "quantitative"},
            "y": {"field": "y", "type": "quantitative"},
            "text": {"field": "t"}
          }
        },
        {
          "data": {"values": [{"x": 121.3, "y": -114.7, "t": "(b)"}]},
          "mark": {"type": "text", "align": "right", "baseline": "alphabetic", "fontSize": 18, "color": "black", "font": "Liberation Serif"},
          "encoding": {
            "x": {"field": "x", "type": "quantitative"},
            "y": {"field": "y", "type": "quantitative"},
            "text": {"field": "t"}
          }
        }
      ]
    }
  ]
}
